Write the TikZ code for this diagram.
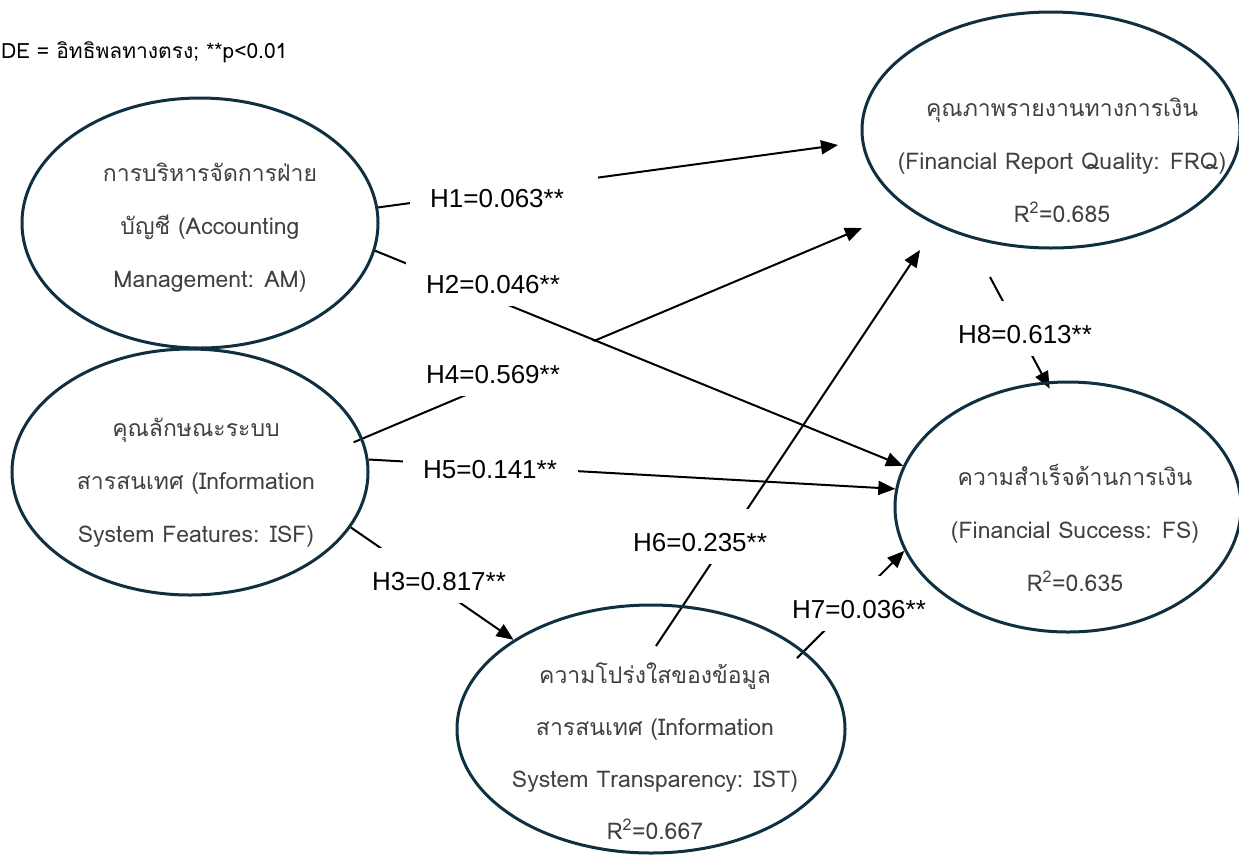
\documentclass[tikz,border=0pt]{standalone}
\usepackage{fontspec}
\setmainfont{Liberation Sans}
\newfontfamily\thaifont[Script=Thai]{Loma}
\usetikzlibrary{arrows.meta,shapes.geometric}
\pgfdeclarelayer{lines}
\pgfsetlayers{lines,main}
\definecolor{ringblue}{HTML}{102F40}
\definecolor{textgray}{HTML}{404040}
\tikzset{
  construct/.style={draw=ringblue, line width=3pt, ellipse, inner sep=0pt},
  ctext/.style={align=center, text=textgray, font=\thaifont\fontsize{23}{53}\selectfont},
  effect/.style={draw, line width=2pt, -{Triangle[length=17pt,width=14pt]}},
  coef/.style={fill=white, font=\fontsize{26}{30}\selectfont, text width=148pt, align=left,
    inner xsep=20pt, inner ysep=0pt, text height=42pt, text depth=13pt, anchor=base west},
}
\begin{document}
\begin{tikzpicture}[x=1pt,y=-1pt]
\useasboundingbox (0,0) rectangle (1239,855);
\node[anchor=base west, inner sep=0pt, font=\thaifont\fontsize{21}{24}\selectfont] (note) at (1,58) {DE = อิทธิพลทางตรง; **p<0.01};
% constructs
\node[construct, minimum width=356pt, minimum height=250pt] (AM) at (200,223) {};
\node[construct, minimum width=356pt, minimum height=246pt] (ISF) at (190,472) {};
\node[construct, minimum width=378pt, minimum height=236pt] (FRQ) at (1051,130) {};
\node[construct, minimum width=346pt, minimum height=250pt] (FS) at (1068,507) {};
\node[construct, minimum width=388pt, minimum height=248pt] (IST) at (651,729) {};
\node[ctext] (AMt) at (210,228) {การบริหารจัดการฝ่าย\\บัญชี (Accounting\\Management: AM)};
\node[ctext] (ISFt) at (196,483) {คุณลักษณะระบบ\\สารสนเทศ (Information\\System Features: ISF)};
\node[ctext] (FRQt) at (1062,160) {คุณภาพรายงานทางการเงิน\\(Financial Report Quality: FRQ)\\R\textsuperscript{2}=0.685};
\node[ctext] (FSt) at (1075,528) {ความสำเร็จด้านการเงิน\\(Financial Success: FS)\\R\textsuperscript{2}=0.635};
\node[ctext, font=\thaifont\fontsize{23}{52}\selectfont] (ISTt) at (655,751) {ความโปร่งใสของข้อมูล\\สารสนเทศ (Information\\System Transparency: IST)\\R\textsuperscript{2}=0.667};
% paths
\begin{pgfonlayer}{lines}
\coordinate (h1end) at (838,145);
\coordinate (h4end) at (862,228);
\coordinate (h6start) at (656,646);
\coordinate (h6end) at (920,250);
\coordinate (h8start) at (990,277);
\draw[effect] (AM.5) -- (h1end);
\draw[effect] (AM.351) -- (FS.166);
\draw[effect, shorten <=-10pt] (ISF.11) -- (h4end);
\draw[effect] (ISF.4) -- (FS.174);
\draw[effect] (ISF.341) -- (IST.147);
\draw[effect] (h6start) -- (h6end);
\draw[effect, shorten <=-10pt] (IST.27) -- (FS.195);
\draw[effect, shorten >=-8pt] (h8start) -- (FS.100);
\node[coef] (h1) at (410,207) {H1=0.063**};
\node[coef] (h2) at (406,293) {H2=0.046**};
\node[coef] (h4) at (406,383) {H4=0.569**};
\node[coef, text width=135pt] (h5) at (403,478) {H5=0.141**};
\node[coef] (h3) at (352,590) {H3=0.817**};
\node[coef] (h6) at (613,551) {H6=0.235**};
\node[coef] (h7) at (772,618) {H7=0.036**};
\node[coef] (h8) at (938,343) {H8=0.613**};
\end{pgfonlayer}
\end{tikzpicture}
\end{document}
